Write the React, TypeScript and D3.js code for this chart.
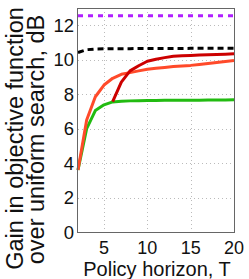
import React from "react";
import * as d3 from "d3";

const T = [2, 3, 4, 5, 6, 7, 8, 9, 10, 11, 12, 13, 14, 15, 16, 17, 18, 19, 20];
const greenVals = [3.6, 6.0, 7.05, 7.38, 7.55, 7.59, 7.61, 7.62, 7.63, 7.63, 7.64, 7.64, 7.65, 7.65, 7.65, 7.66, 7.66, 7.66, 7.67];
const lightRedVals = [3.6, 6.5, 7.85, 8.53, 8.92, 9.15, 9.25, 9.35, 9.44, 9.5, 9.55, 9.6, 9.64, 9.67, 9.72, 9.78, 9.84, 9.9, 9.95];
const darkRedT = [6, 7, 8, 9, 10, 11, 12, 13, 14, 15, 16, 17, 18, 19, 20];
const darkRedVals = [7.57, 8.7, 9.35, 9.65, 9.91, 10.03, 10.12, 10.2, 10.23, 10.25, 10.27, 10.29, 10.3, 10.32, 10.34];
const blackVals = [10.42, 10.58, 10.62, 10.63, 10.64, 10.64, 10.64, 10.65, 10.65, 10.65, 10.65, 10.65, 10.65, 10.66, 10.66, 10.66, 10.66, 10.66, 10.66];
const purpleVals = T.map(() => 12.55);
const xTicks = [5, 10, 15, 20];
const yTicks = [0, 2, 4, 6, 8, 10, 12];

const W = 249, H = 279;
const L = 78, R = 234, TOP = 8, BOT = 232;
const FONT = "Liberation Sans, Arial, sans-serif";

export default function App() {
  const x = d3.scaleLinear().domain([2, 20]).range([L, R]);
  const y = d3.scaleLinear().domain([0, 13]).range([BOT, TOP]);
  const line = d3.line<[number, number]>().x(d => x(d[0])).y(d => y(d[1]));
  const pts = (xs: number[], vs: number[]) => xs.map((t, i) => [t, vs[i]] as [number, number]);

  return (
    <svg width={W} height={H} style={{ position: "absolute", left: 0, top: 0 }} fontFamily={FONT}>
      <rect x={0} y={0} width={W} height={H} fill="#fff" />
      {/* grid */}
      {xTicks.map(t => (
        <line key={"gx" + t} x1={Math.round(x(t)) + 0.5} x2={Math.round(x(t)) + 0.5} y1={TOP} y2={BOT} stroke="#bbb" strokeWidth={1} strokeDasharray="1,3" />
      ))}
      {yTicks.map(t => (
        <line key={"gy" + t} x1={L} x2={R} y1={Math.round(y(t)) + 0.5} y2={Math.round(y(t)) + 0.5} stroke="#bbb" strokeWidth={1} strokeDasharray="1,3" />
      ))}
      {/* series */}
      <path d={line(pts(T, greenVals)) || ""} fill="none" stroke="#22bb11" strokeWidth={3} strokeLinejoin="round" />
      <path d={line(pts(T, lightRedVals)) || ""} fill="none" stroke="#ff4a2a" strokeWidth={3} strokeLinejoin="round" />
      <path d={line(pts(darkRedT, darkRedVals)) || ""} fill="none" stroke="#cc0000" strokeWidth={3} strokeLinejoin="round" />
      <path d={line(pts(T, blackVals)) || ""} fill="none" stroke="#000" strokeWidth={3} strokeDasharray="6,4" />
      <path d={line(pts(T, purpleVals)) || ""} fill="none" stroke="#b020ff" strokeWidth={3} strokeDasharray="5,5" />
      {/* frame */}
      <rect x={L - 0.5} y={TOP + 0.5} width={R - L + 1} height={BOT - TOP} fill="none" stroke="#666" strokeWidth={1} />
      {/* tick labels */}
      {xTicks.map(t => (
        <text key={"xl" + t} x={x(t)} y={253.5} textAnchor="middle" fontSize={18} fill="#111">{t}</text>
      ))}
      {yTicks.map(t => (
        <text key={"yl" + t} x={74} y={y(t) + 6.5} textAnchor="end" fontSize={18.5} fill="#111">{t}</text>
      ))}
      <text x={157} y={275.5} textAnchor="middle" fontSize={20} fill="#111">Policy horizon, T</text>
      <text transform="translate(22.5,138.5) rotate(-90)" textAnchor="middle" fontSize={23.5} fill="#111">Gain in objective function</text>
      <text transform="translate(44,139.5) rotate(-90)" textAnchor="middle" fontSize={23.5} fill="#111">over uniform search, dB</text>
    </svg>
  );
}
